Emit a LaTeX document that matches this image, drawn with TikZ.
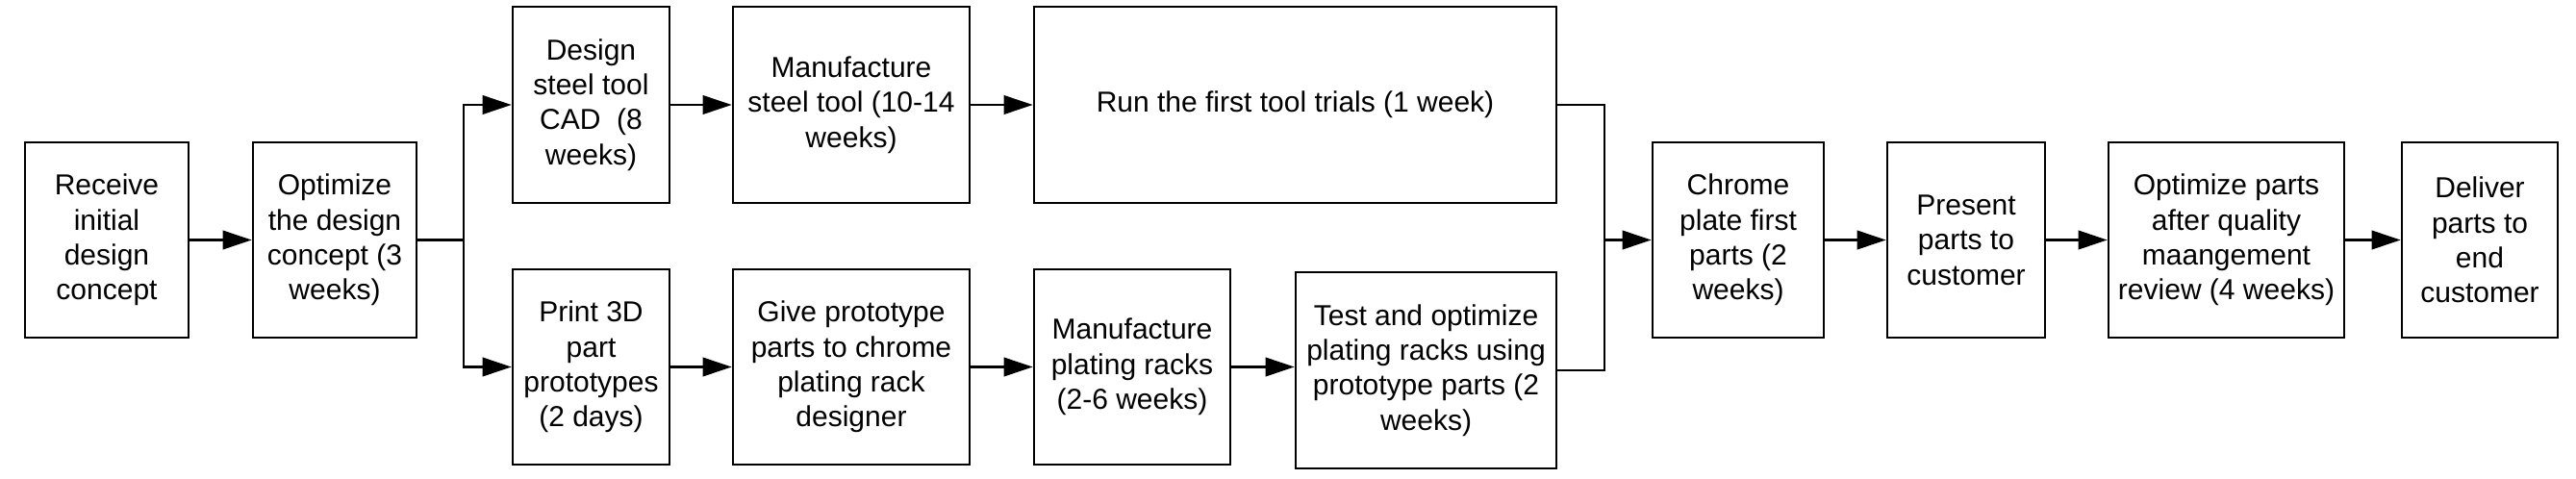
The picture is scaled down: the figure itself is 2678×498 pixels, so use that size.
\documentclass[tikz,border=0pt]{standalone}
\usepackage{fontspec}
\setmainfont{Liberation Sans}
\usetikzlibrary{arrows.meta}
\begin{document}
\begin{tikzpicture}[x=0.5pt,y=-0.5pt,
  box/.style={draw=black, line width=1.3pt, fill=white, inner sep=0pt, align=center,
    font=\fontsize{15pt}{18.2pt}\selectfont, minimum height=101.5pt},
  arr/.style={-{Triangle[length=15pt,width=9.7pt]}, line width=1.2pt},
  conn/.style={line width=1.2pt}]
\useasboundingbox[fill=white] (0,0) rectangle (2678,498);
\node[box, minimum width=85pt] (recv) at (111,249.5) {Receive\\initial\\design\\concept};
\node[box, minimum width=85pt] (opt) at (348,249.5) {Optimize\\the design\\concept (3\\weeks)};
\node[box, minimum width=81.5pt, minimum height=102pt] (design) at (614.5,109) {Design\\steel tool\\CAD\ \ (8\\weeks)};
\node[box, minimum width=81.5pt] (print) at (614.5,381.5) {Print 3D\\part\\prototypes\\(2 days)};
\node[box, minimum width=123pt, minimum height=102pt] (mfgtool) at (885,109) {Manufacture\\steel tool (10-14\\weeks)};
\node[box, minimum width=123pt] (give) at (885,381.5) {Give prototype\\parts to chrome\\plating rack\\designer};
\node[box, minimum width=271.5pt, minimum height=102pt] (run) at (1346.5,109) {Run the first tool trials (1 week)};
\node[box, minimum width=102pt] (mfgrack) at (1177,381.5) {Manufacture\\plating racks\\(2-6 weeks)};
\node[box, minimum width=135.5pt, minimum height=102pt] (test) at (1482.5,385) {Test and optimize\\plating racks using\\prototype parts (2\\weeks)};
\node[box, minimum width=89pt] (chrome) at (1807,249.5) {Chrome\\plate first\\parts (2\\weeks)};
\node[box, minimum width=82pt] (present) at (2044,249.5) {Present\\parts to\\customer};
\node[box, minimum width=122.5pt] (optparts) at (2314.5,249.5) {Optimize parts\\after quality\\maangement\\review (4 weeks)};
\node[box, minimum width=81pt] (deliver) at (2578,249.5) {Deliver\\parts to\\end\\customer};

\coordinate (split) at (482,249.5);
\coordinate (merge) at (1668,249.5);

\draw[arr] (recv.east) -- (opt.west);
\draw[conn] (opt.east) -- (split);
\draw[arr] (split) |- (design.west);
\draw[arr] (split) |- (print.west);
\draw[arr] (design.east) -- (mfgtool.west);
\draw[arr] (mfgtool.east) -- (run.west);
\draw[arr] (print.east) -- (give.west);
\draw[arr] (give.east) -- (mfgrack.west);
\draw[arr] (mfgrack.east) -- (mfgrack.east -| test.west);
\draw[conn] (run.east) -| (merge);
\draw[conn] (test.east) -| (merge);
\draw[arr] (merge) -- (chrome.west);
\draw[arr] (chrome.east) -- (present.west);
\draw[arr] (present.east) -- (optparts.west);
\draw[arr] (optparts.east) -- (deliver.west);
\end{tikzpicture}
\end{document}
